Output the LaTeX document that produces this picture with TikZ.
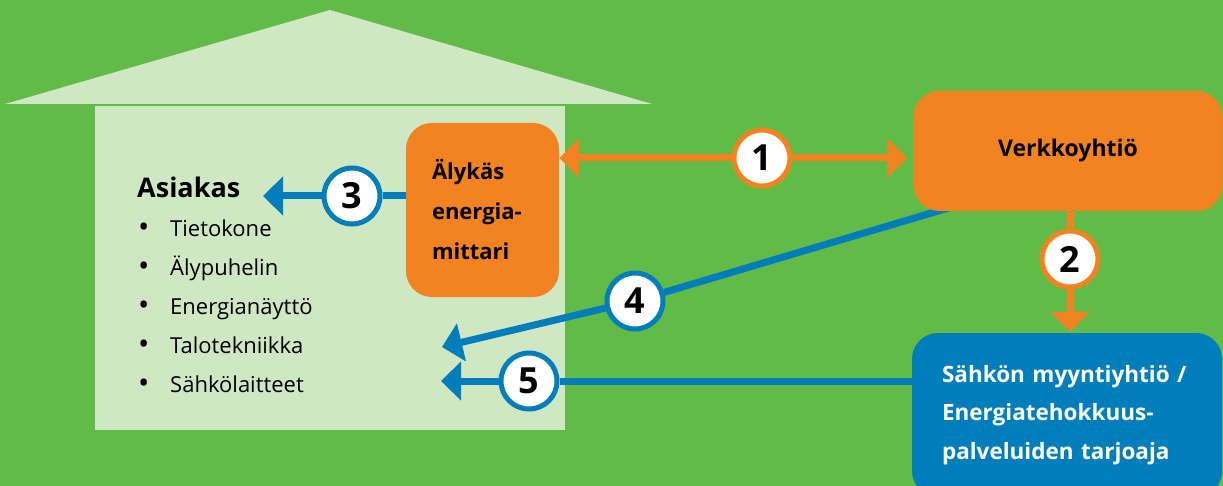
\documentclass[tikz,border=0pt]{standalone}
\usepackage{fontspec}
\setmainfont{Open Sans}
\usetikzlibrary{arrows.meta}
\definecolor{ruoho}{HTML}{62BB47}
\definecolor{talo}{HTML}{CFE7C2}
\definecolor{oranssi}{HTML}{F38321}
\definecolor{sininen}{HTML}{007DBB}
\newcommand{\pallo}{\makebox[32pt][l]{\fontsize{30}{25}\selectfont\raisebox{-1pt}{\textbullet}}}

\begin{document}
\begin{tikzpicture}[x=1pt,y=-1pt]
\tikzstyle{laatikko}=[rectangle,rounded corners=26pt,fill=oranssi,font=\bfseries\fontsize{22}{40}\selectfont]
\tikzstyle{numero}=[circle,fill=white,line width=5pt,minimum size=56pt,inner sep=0pt,font=\bfseries\fontsize{36}{36}\selectfont]
\tikzstyle{nuolio}=[draw=oranssi,line width=7pt,-{Triangle[length=20pt,width=38pt]}]
\tikzstyle{nuolis}=[draw=sininen,line width=7pt,-{Triangle[length=20pt,width=38pt]}]
\tikzstyle{lista}=[anchor=base west,inner sep=0pt,font=\fontsize{22}{25}\selectfont]
\clip (0,0) rectangle (1223,486);
\fill[ruoho] (0,0) rectangle (1223,486);
\fill[talo] (5,104) -- (330,10) -- (652,104) -- cycle;
\fill[talo] (95,106) rectangle (565,430);

\node[anchor=base west,inner sep=0pt,font=\bfseries\fontsize{27}{30}\selectfont] (asiakas) at (137,198) {Asiakas};
\node[lista] (kone) at (138,237) {\pallo Tietokone};
\node[lista] (puhelin) at (138,276) {\pallo Älypuhelin};
\node[lista] (naytto) at (138,314) {\pallo Energianäyttö};
\node[lista] (talotek) at (138,353) {\pallo Talotekniikka};
\node[lista] (laitteet) at (138,392) {\pallo Sähkölaitteet};

\node[numero,draw=oranssi] (n1) at (762,158) {1};
\node[numero,draw=oranssi] (n2) at (1070,259) {2};
\node[numero,draw=sininen] (n3) at (352,196) {3};
\node[numero,draw=sininen] (n4) at (635,301) {4};
\node[numero,draw=sininen] (n5) at (529,381) {5};
\coordinate (k3) at (263,196);
\coordinate (a4) at (955,206);
\coordinate (k4) at (442,347);
\coordinate (k5) at (441,381);

\node[laatikko,minimum width=153pt,minimum height=174pt,text width=101pt,align=left] (mittari) at (482.5,210) {Älykäs\\energia-\\mittari};
\draw[nuolis] (a4) -- (n4) -- (k4);
\node[laatikko,minimum width=309pt,minimum height=120pt,font=\bfseries\fontsize{23}{40}\selectfont] (verkko) at (1068,151) {Verkkoyhtiö};
\node[laatikko,fill=sininen,text=white,minimum width=310pt,minimum height=164pt,text width=250pt,align=left,font=\bfseries\fontsize{22.5}{38.5}\selectfont] (myynti) at (1067,415) {Sähkön myyntiyhtiö /\\Energiatehokkuus-\\palveluiden tarjoaja};

\draw[nuolio] (n1) -- (mittari.east |- n1);
\draw[nuolio,shorten >=6pt] (n1) -- (verkko.west |- n1);
\draw[nuolio,shorten >=1pt] (verkko.south -| n2) -- (n2) -- (myynti.north -| n2);
\draw[nuolis] (mittari.west |- n3) -- (n3) -- (k3);
\draw[nuolis] (myynti.west |- n5) -- (n5) -- (k5);
\end{tikzpicture}
\end{document}
